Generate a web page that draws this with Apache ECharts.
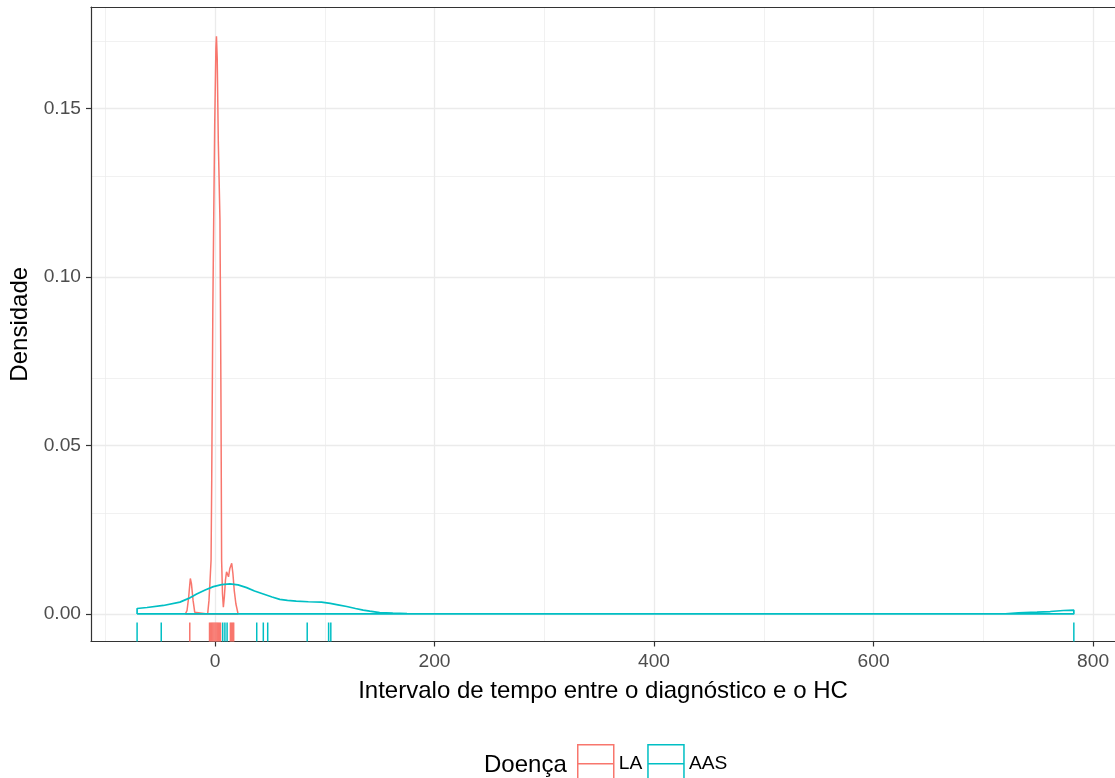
<!DOCTYPE html>
<html>
<head>
<meta charset="utf-8">
<script src="https://cdn.jsdelivr.net/npm/echarts@6/dist/echarts.min.js"></script>
<style>
  html, body { margin: 0; padding: 0; background: #fff; }
  #chart { width: 1115px; height: 778px; }
</style>
</head>
<body>
<div id="chart"></div>
<script>
// densidade LA (vermelho), so onde ela e visivel
const laX = [-27, -25.5, -24, -22.5, -21.5, -20, -18.5, -17, -6.7, -5.5, -4.5, -3.6, -3.0, -2.5, -2.0, -1.2, -0.3, 0.8, 1.3, 2.0, 3.0, 4.5, 5.0, 5.5, 6.0, 6.8, 7.6, 8.5, 9.5, 10.5, 11.2, 12.3, 13.5, 15.2, 16.3, 17.5, 19, 21];
const laY = [0, 0.001, 0.005, 0.0105, 0.009, 0.004, 0.0005, 0, 0, 0.004, 0.010, 0.016, 0.04, 0.065, 0.09, 0.117, 0.145, 0.168, 0.1715, 0.165, 0.14, 0.117, 0.09, 0.058, 0.016, 0.006, 0.002, 0.005, 0.01, 0.0125, 0.0127, 0.011, 0.0135, 0.015, 0.012, 0.007, 0.003, 0];
// densidade AAS (azul)
const aasX = [-71, -62, -47, -32, -24, -16.7, -9, -1.5, 6, 13.6, 21, 28.8, 36, 44, 52, 59, 66, 74, 85, 97, 105, 112, 120, 128, 135, 141, 150, 162, 175, 190, 720, 732, 749, 761, 773, 782.5];
const aasY = [0.0016, 0.0019, 0.0025, 0.0035, 0.0046, 0.0059, 0.0071, 0.0081, 0.0087, 0.0089, 0.0086, 0.0078, 0.0068, 0.0059, 0.0050, 0.0043, 0.0040, 0.0038, 0.0036, 0.0035, 0.0031, 0.0027, 0.0022, 0.0016, 0.0011, 0.0008, 0.0004, 0.0002, 0.0001, 0, 0, 0.0003, 0.0005, 0.0007, 0.001, 0.0011];
// rug
const laRug = [-23, -5, -4, -3, -2, -1, 0, 1, 2, 3, 4, 5, 14, 15, 16, 17];
const aasRug = [-71, -49, 7, 9, 11, 38, 44, 48, 84, 103.5, 105.5, 782.5];
// eixos
const xTicks = [0, 200, 400, 600, 800];
const xMinor = [-100, 100, 300, 500, 700];
const yTicks = [0, 0.05, 0.10, 0.15];
const yMinor = [0.025, 0.075, 0.125, 0.175];

const X_MIN = -113.0, X_MAX = 820.0;
const Y_MIN = -0.0082, Y_MAX = 0.1802;
const RED = '#F8766D', TEAL = '#00BFC4';
const FONT = 'Liberation Sans, Arial, sans-serif';
const BORDER = { show: true, onZero: false, lineStyle: { color: '#333333', width: 1.2 } };

function polygon(xs, ys) {
  const pts = xs.map((x, i) => [x, ys[i]]);
  return [[xs[0], 0]].concat(pts, [[xs[xs.length - 1], 0], [xs[0], 0]]);
}

function rugSeries(name, values, color) {
  return {
    name: name,
    type: 'custom',
    data: values.map(v => [v, Y_MIN]),
    encode: { x: 0, y: 1 },
    renderItem: function (params, api) {
      const p = api.coord([api.value(0), Y_MIN]);
      return {
        type: 'line',
        shape: { x1: p[0], y1: p[1], x2: p[0], y2: p[1] - 19 },
        style: { stroke: color, lineWidth: 1.5 }
      };
    },
    silent: true,
    z: 3
  };
}

const gridLine = (w) => ({ color: '#EBEBEB', width: w, type: 'solid' });
const legendItem = (name, color) => ({
  name: name,
  itemStyle: { color: 'transparent', borderColor: color, borderWidth: 1.5 }
});

const chart = echarts.init(document.getElementById('chart'));
const option = {
  animation: false,
  backgroundColor: '#fff',
  textStyle: { fontFamily: FONT },
  grid: { left: 91, top: 7, right: 0, height: 634.5, show: false },
  xAxis: [{
    type: 'value', min: X_MIN, max: X_MAX,
    axisLine: BORDER,
    splitLine: { show: false },
    axisTick: { customValues: xTicks, length: 5, lineStyle: { color: '#333333', width: 1.2 } },
    axisLabel: { customValues: xTicks, color: '#4D4D4D', fontSize: 19.2, fontFamily: FONT, margin: 11 },
    name: 'Intervalo de tempo entre o diagnóstico e o HC',
    nameLocation: 'middle', nameGap: 38,
    nameTextStyle: { color: '#000', fontSize: 24, fontFamily: FONT }
  }, {
    type: 'value', min: X_MIN, max: X_MAX, position: 'top',
    axisLine: BORDER, axisTick: { show: false }, axisLabel: { show: false },
    splitLine: { show: false }
  }],
  yAxis: {
    type: 'value', min: Y_MIN, max: Y_MAX,
    axisLine: BORDER,
    splitLine: { show: false },
    axisTick: { customValues: yTicks, length: 5, lineStyle: { color: '#333333', width: 1.2 } },
    axisLabel: {
      customValues: yTicks, color: '#4D4D4D', fontSize: 19.2, fontFamily: FONT, margin: 10,
      formatter: v => v.toFixed(2)
    },
    name: 'Densidade',
    nameLocation: 'middle', nameGap: 56, nameRotate: 90,
    nameTextStyle: { color: '#000', fontSize: 24, fontFamily: FONT }
  },
  legend: {
    data: [legendItem('LA', RED), legendItem('AAS', TEAL)],
    left: 577, top: 744, padding: 0,
    itemWidth: 36, itemHeight: 38, itemGap: 5,
    icon: 'path://M0,0 L36,0 L36,38 L0,38 Z M0,19 L36,19',
    textStyle: { color: '#000', fontSize: 19.2, fontFamily: FONT },
    selectedMode: false
  },
  graphic: [{
    type: 'text', left: 484, top: 753,
    style: { text: 'Doença', fill: '#000', font: '24px ' + FONT }
  }],
  series: [
    {
      name: 'grade', type: 'line', data: [], showSymbol: false, silent: true, z: 0,
      markLine: {
        z: 0,
        silent: true, symbol: ['none', 'none'], label: { show: false }, animation: false,
        data: [].concat(
          xMinor.map(v => ({ xAxis: v, lineStyle: gridLine(0.7) })),
          yMinor.map(v => ({ yAxis: v, lineStyle: gridLine(0.7) })),
          xTicks.map(v => ({ xAxis: v, lineStyle: gridLine(1.3) })),
          yTicks.map(v => ({ yAxis: v, lineStyle: gridLine(1.3) }))
        )
      }
    },
    {
      name: 'LA', type: 'line', data: polygon(laX, laY),
      showSymbol: false, smooth: false, color: RED,
      lineStyle: { color: RED, width: 1.5 }, z: 2
    },
    {
      name: 'AAS', type: 'line', data: polygon(aasX, aasY),
      showSymbol: false, smooth: false, color: TEAL,
      lineStyle: { color: TEAL, width: 1.7 }, z: 2
    },
    rugSeries('LA', laRug, RED),
    rugSeries('AAS', aasRug, TEAL)
  ]
};
chart.setOption(option);
</script>
</body>
</html>
